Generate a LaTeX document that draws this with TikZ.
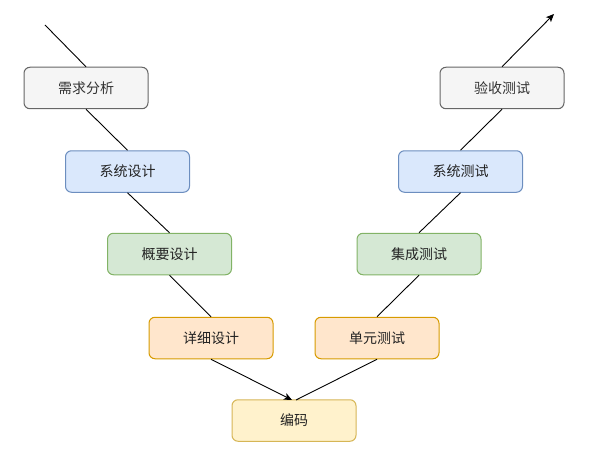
\documentclass[tikz,border=0pt]{standalone}
\usepackage{fontspec}
\setmainfont{Noto Sans CJK SC}
\usetikzlibrary{arrows.meta}
\definecolor{grayF}{HTML}{F5F5F5}\definecolor{grayD}{HTML}{666666}
\definecolor{blueF}{HTML}{DAE8FC}\definecolor{blueD}{HTML}{6C8EBF}
\definecolor{greenF}{HTML}{D5E8D4}\definecolor{greenD}{HTML}{82B366}
\definecolor{orangeF}{HTML}{FFE6CC}\definecolor{orangeD}{HTML}{D79B00}
\definecolor{yellowF}{HTML}{FFF2CC}\definecolor{yellowD}{HTML}{D6B656}
\definecolor{txt}{HTML}{222222}
\begin{document}
\begin{tikzpicture}[x=1pt,y=-1pt,
  box/.style={rounded corners=6pt, line width=1pt, minimum width=124pt, minimum height=41.5pt,
    inner sep=0pt, font=\fontsize{14}{16}\selectfont, text=txt},
  graybox/.style={box, fill=grayF, draw=grayD, text={rgb,255:red,51;green,51;blue,51}},
  bluebox/.style={box, fill=blueF, draw=blueD},
  greenbox/.style={box, fill=greenF, draw=greenD},
  orangebox/.style={box, fill=orangeF, draw=orangeD},
  yellowbox/.style={box, fill=yellowF, draw=yellowD},
  conn/.style={line width=0.9pt, black},
  tip/.style={-{Stealth[length=8pt,width=7pt,inset=2pt]}}
]
\useasboundingbox (0,0) rectangle (594,468);
\node[graybox] (req) at (86,88) {需求分析};
\node[bluebox] (sysd) at (127.5,171.5) {系统设计};
\node[greenbox] (outl) at (169.5,254) {概要设计};
\node[orangebox] (det) at (211,338) {详细设计};
\node[yellowbox] (code) at (294,420.5) {编码};
\node[orangebox] (unit) at (377,338) {单元测试};
\node[greenbox] (integ) at (419,254) {集成测试};
\node[bluebox] (syst) at (460.5,171.5) {系统测试};
\node[graybox] (acc) at (502,88) {验收测试};
\coordinate (start) at (45,25);
\coordinate (endp) at (554,14);
\coordinate (codeL) at (292,400);
\coordinate (codeR) at (296,400);
\draw[conn] (start) -- (req.north);
\draw[conn] (req.south) -- (sysd.north);
\draw[conn] (sysd.south) -- (outl.north);
\draw[conn] (outl.south) -- (det.north);
\draw[conn,tip] (det.south) -- (codeL);
\draw[conn] (codeR) -- (unit.south);
\draw[conn] (unit.north) -- (integ.south);
\draw[conn] (integ.north) -- (syst.south);
\draw[conn] (syst.north) -- (acc.south);
\draw[conn,tip] (acc.north) -- (endp);
\end{tikzpicture}
\end{document}
